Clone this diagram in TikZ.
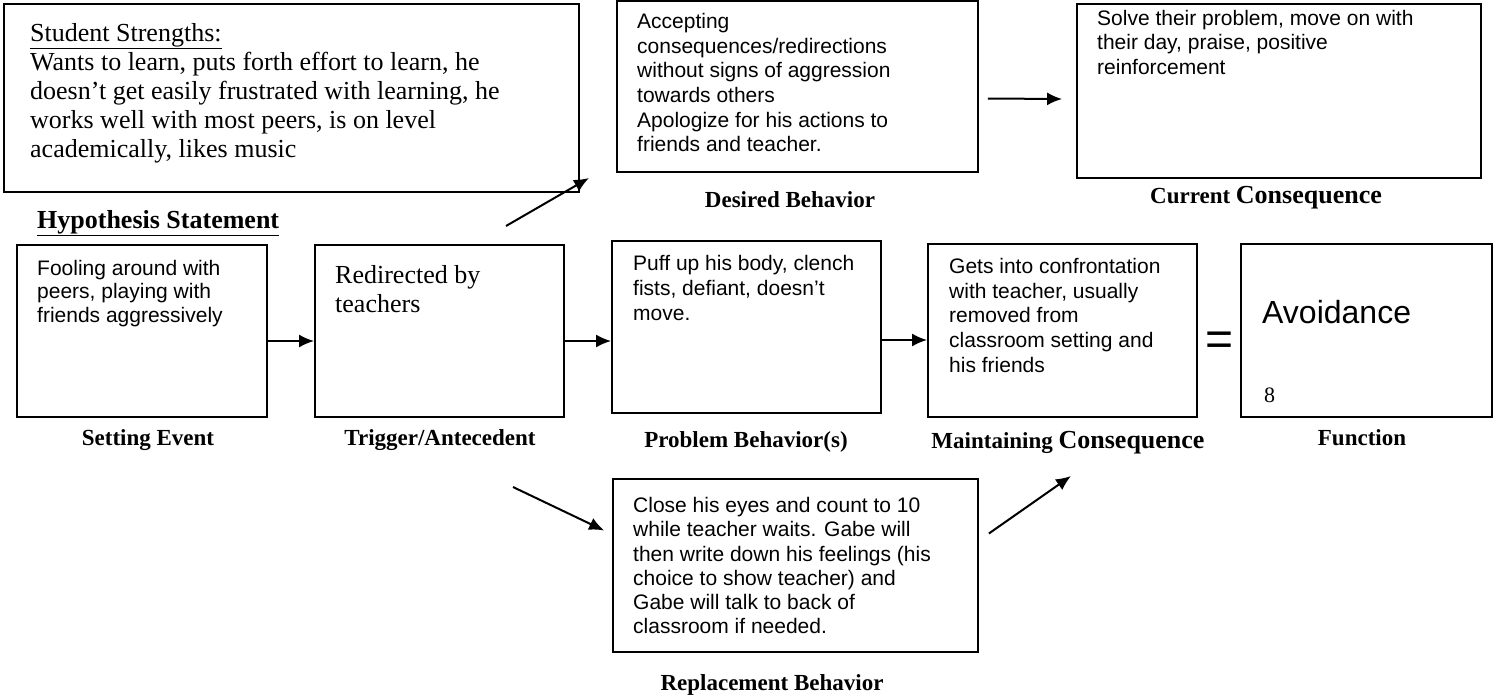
\documentclass[tikz,border=0pt]{standalone}
\usepackage{fontspec}
\setmainfont{Liberation Serif}
\newfontfamily\arialfont{Liberation Sans}
\usetikzlibrary{arrows.meta}

\begin{document}
\begin{tikzpicture}[
    x=1pt, y=-1pt,
    box/.style={rectangle, draw, line width=1.8pt, fill=white, inner sep=0pt},
    body/.style={font=\arialfont\fontsize{21}{24.5}\selectfont, align=left, anchor=north west, inner sep=0pt},
    serifbody/.style={font=\fontsize{26}{29}\selectfont, align=left, anchor=north west, inner sep=0pt},
    caption/.style={font=\bfseries\fontsize{23}{26}\selectfont, anchor=base, inner sep=0pt},
    arr/.style={-{Latex[length=15pt,width=13pt]}, line width=2pt},
]
    \useasboundingbox (0,0) rectangle (1497,694);

    % Student strengths
    \node[box, minimum width=575pt, minimum height=188pt] (strengths) at (291.5,98) {};
    \node[serifbody] (strengthstxt) at (30,23) {
        \underline{Student Strengths:}\\
        Wants to learn, puts forth effort to learn, he\\
        doesn’t get easily frustrated with learning, he\\
        works well with most peers, is on level\\
        academically, likes music
    };
    \node[caption, anchor=base west, font=\bfseries\fontsize{26}{30}\selectfont] (hyplab) at (37,228) {\underline{Hypothesis Statement}};

    % Desired behavior
    \node[box, minimum width=361pt, minimum height=171pt] (desired) at (797.5,86.5) {};
    \node[body, font=\arialfont\fontsize{21}{24.7}\selectfont] (desiredtxt) at (637,13) {
        Accepting\\
        consequences/redirections\\
        without signs of aggression\\
        towards others\\
        Apologize for his actions to\\
        friends and teacher.
    };
    \node[caption] (desiredlab) at (790,207) {Desired Behavior};

    % Current consequence
    \node[box, minimum width=404pt, minimum height=174pt] (current) at (1279,91) {};
    \node[body] (currenttxt) at (1097,10) {
        Solve their problem, move on with\\
        their day, praise, positive\\
        reinforcement
    };
    \node[caption] (currentlab) at (1266,203) {Current {\fontsize{26}{30}\selectfont Consequence}};

    % Setting event
    \node[box, minimum width=250pt, minimum height=172pt] (setting) at (142,331) {};
    \node[body, font=\arialfont\fontsize{21}{23.5}\selectfont] (settingtxt) at (37,260) {
        Fooling around with\\
        peers, playing with\\
        friends aggressively
    };
    \node[caption] (settinglab) at (148,445) {Setting Event};

    % Trigger
    \node[box, minimum width=249pt, minimum height=172pt] (trigger) at (439.5,331) {};
    \node[serifbody, font=\fontsize{26}{29}\selectfont] (triggertxt) at (335,265) {
        Redirected by\\
        teachers
    };
    \node[caption] (triggerlab) at (440,445) {Trigger/Antecedent};

    % Problem behavior
    \node[box, minimum width=269pt, minimum height=172pt] (problem) at (746.5,327) {};
    \node[body, font=\arialfont\fontsize{21}{25}\selectfont] (problemtxt) at (633,255) {
        Puff up his body, clench\\
        fists, defiant, doesn’t\\
        move.
    };
    \node[caption] (problemlab) at (746,447) {Problem Behavior(s)};

    % Maintaining consequence
    \node[box, minimum width=269pt, minimum height=173pt] (maint) at (1062.5,330.5) {};
    \node[body, font=\arialfont\fontsize{21}{24.75}\selectfont] (mainttxt) at (949,258) {
        Gets into confrontation\\
        with teacher, usually\\
        removed from\\
        classroom setting and\\
        his friends
    };
    \node[caption] (maintlab) at (1068,448) {Maintaining {\fontsize{26}{30}\selectfont Consequence}};

    \node[inner sep=0pt, font=\arialfont\fontsize{48}{48}\selectfont] (equals) at (1220,344) {=};

    % Function
    \node[box, minimum width=251pt, minimum height=173pt] (func) at (1366.5,330.5) {};
    \node[anchor=base west, inner sep=0pt, font=\arialfont\fontsize{32}{36}\selectfont] (functxt) at (1262,323) {Avoidance};
    \node[anchor=base west, inner sep=0pt, font=\fontsize{22}{25}\selectfont] (funcnum) at (1264,402) {8};
    \node[caption] (funclab) at (1362,445) {Function};

    % Replacement behavior
    \node[box, minimum width=365pt, minimum height=173pt] (repl) at (795.5,565.5) {};
    \node[body, font=\arialfont\fontsize{21}{24.3}\selectfont] (repltxt) at (633,497) {
        Close his eyes and count to 10\\
        while teacher waits. Gabe will\\
        then write down his feelings (his\\
        choice to show teacher) and\\
        Gabe will talk to back of\\
        classroom if needed.
    };
    \node[caption] (repllab) at (772,690) {Replacement Behavior};

    % Arrows
    \coordinate (hypstart) at (506,226);
    \coordinate (hypend) at (589,178);
    \coordinate (replstart) at (513,487);
    \coordinate (replend) at (1071,476);

    \draw[arr] (hypstart) -- (hypend);
    \draw[arr] ([xshift=9pt,yshift=-12pt]desired.east) -- ([xshift=-14pt,yshift=-8pt]current.west);
    \draw[arr] ([yshift=-10pt]setting.east) -- ([yshift=-10pt]trigger.west);
    \draw[arr] ([yshift=-10pt]trigger.east) -- ([yshift=-14pt]problem.west);
    \draw[arr] ([yshift=-13pt]problem.east) -- ([yshift=-9.5pt]maint.west);
    \draw[arr] (replstart) -- ([xshift=-8pt,yshift=35pt]repl.west);
    \draw[arr] ([xshift=10pt,yshift=32pt]repl.east) -- (replend);

\end{tikzpicture}
\end{document}
